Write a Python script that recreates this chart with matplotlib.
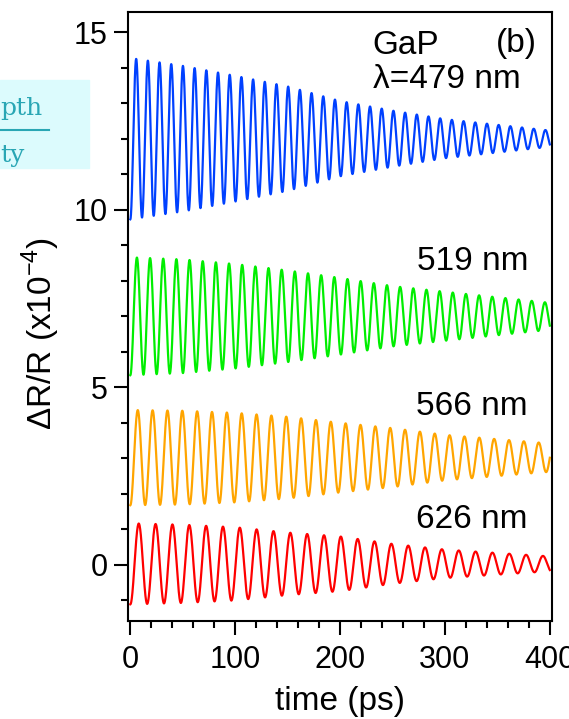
import numpy as np
import matplotlib
matplotlib.use("Agg")
from matplotlib import pyplot as plt
from matplotlib.patches import Rectangle
from matplotlib.ticker import MultipleLocator

plt.rcParams['font.family'] = ['Liberation Sans', 'DejaVu Sans']
plt.rcParams['mathtext.fontset'] = 'custom'
plt.rcParams['mathtext.rm'] = 'Liberation Sans'

# envelope times (ps) and half-amplitudes of each trace
env_t = [0, 50, 100, 150, 200, 250, 300, 400]
wavelengths = ["479", "519", "566", "626"]
periods = [11.15, 12.55, 14.16, 16.06]
offsets = [12.0, 7.0, 3.02, 0.03]
amp_479 = [2.27, 2.05, 1.77, 1.47, 1.06, 0.79, 0.55, 0.23]
amp_519 = [1.66, 1.60, 1.47, 1.29, 1.08, 0.85, 0.69, 0.38]
amp_566 = [1.34, 1.32, 1.26, 1.15, 0.98, 0.83, 0.64, 0.40]
amp_626 = [1.14, 1.10, 1.03, 0.88, 0.77, 0.56, 0.40, 0.21]
amps = [amp_479, amp_519, amp_566, amp_626]
colors = ['#0040ff', '#00ee00', '#ffa500', '#ff0000']

fig = plt.figure(figsize=(5.69, 7.19), dpi=100)
ax = fig.add_axes([0.225, 0.1363, 0.745, 0.8467])

t = np.linspace(0, 400, 4001)
for per, off, amp, c in zip(periods, offsets, amps, colors):
    env = np.interp(t, env_t, amp)
    ax.plot(t, off - env * np.cos(2 * np.pi * t / per), color=c, lw=1.6)

ax.set_xlim(-2.2, 402)
ax.set_ylim(-1.58, 15.56)
ax.xaxis.set_major_locator(MultipleLocator(100))
ax.xaxis.set_minor_locator(MultipleLocator(20))
ax.yaxis.set_major_locator(MultipleLocator(5))
ax.yaxis.set_minor_locator(MultipleLocator(1))
ax.tick_params(which='major', length=10, width=1.5, labelsize=22, direction='out', pad=4.5)
ax.tick_params(axis='x', which='major', pad=7)
ax.tick_params(which='minor', length=5, width=1.5, direction='out')
for s in ax.spines.values():
    s.set_linewidth(1.5)

ax.set_xlabel("time (ps)", fontsize=24, labelpad=8)
ax.set_ylabel(r"$\Delta$R/R (x10$^{-4}$)", fontsize=24)
ax.yaxis.set_label_coords(-0.156, 0.473)

fs = 24
ax.text(231, 14.37, "GaP", fontsize=fs, va='baseline')
ax.text(348.6, 14.45, "(b)", fontsize=fs, va='baseline')
ax.text(231, 13.44, "\u03bb=479 nm", fontsize=fs, va='baseline')
ax.text(273, 8.29, "519 nm", fontsize=fs, va='baseline')
ax.text(272.4, 4.23, "566 nm", fontsize=fs, va='baseline')
ax.text(272.4, 1.04, "626 nm", fontsize=fs, va='baseline')

# neighbouring panel caption box at the left edge
fig.patches.append(Rectangle((0, 1 - 168 / 719), 0.156, 88 / 719, transform=fig.transFigure,
                             color='#dcfbfd', zorder=0))
fig.text(0.0, 1 - 115 / 719, "pth", fontsize=18, family='DejaVu Serif',
         color='#29a6b4', va='baseline')
fig.lines.append(plt.Line2D([0, 49 / 569], [1 - 130 / 719] * 2, transform=fig.transFigure,
                            color='#29a6b4', lw=1.5))
fig.text(0.0, 1 - 162 / 719, "ty", fontsize=18, family='DejaVu Serif',
         color='#29a6b4', va='baseline')

fig.savefig("out.png", dpi=100)
